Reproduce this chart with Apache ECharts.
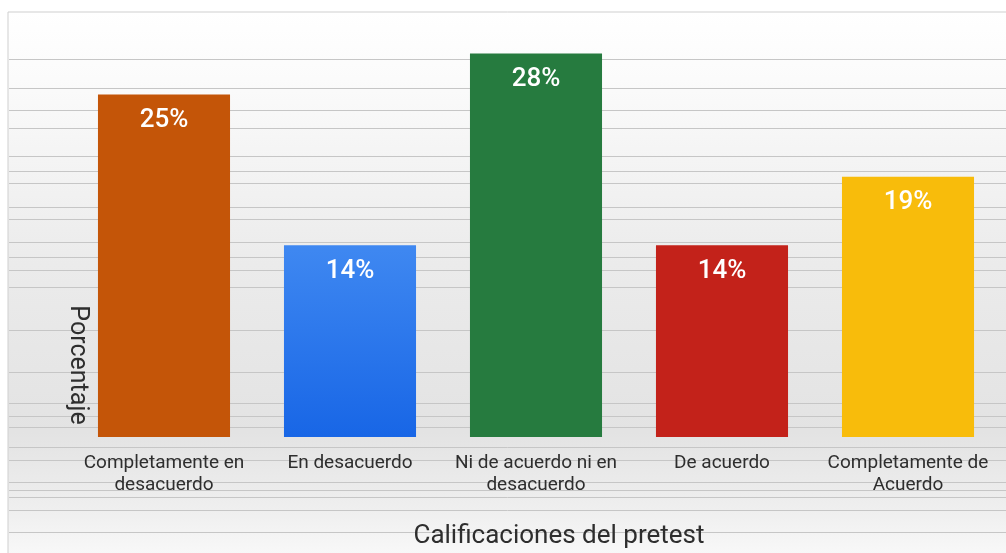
<!DOCTYPE html>
<html>
<head>
<meta charset="utf-8">
<script src="https://cdn.jsdelivr.net/npm/echarts@6/dist/echarts.min.js"></script>
<style>
  html, body { margin: 0; padding: 0; background: #ffffff; }
  #chart { width: 1006px; height: 553px; }
</style>
</head>
<body>
<div id="chart"></div>
<script>
// Survey answers (pretest), percentage of respondents per rating
const categories = [
  'Completamente en\ndesacuerdo',
  'En desacuerdo',
  'Ni de acuerdo ni en\ndesacuerdo',
  'De acuerdo',
  'Completamente de\nAcuerdo'
];
const percentages = [25, 14, 28, 14, 19];
const barColors = [
  '#c45508',
  { type: 'linear', x: 0, y: 0, x2: 0, y2: 1,
    colorStops: [{ offset: 0, color: '#3f88f1' }, { offset: 1, color: '#1866e6' }] },
  '#267b3f',
  '#c3221a',
  '#f8bc0b'
];
const xTitle = 'Calificaciones del pretest';
const yTitle = 'Porcentaje';

// decorative background rules (pixel offsets of the panel ruling)
const ruleOffsets = [59, 88, 110, 128, 156, 171, 183, 207, 219, 242, 257, 270, 287,
  330, 372, 403, 416, 427, 447, 460, 482, 490, 497, 510, 532];

const FONT = 'Roboto, "Noto Sans", sans-serif';
const chart = echarts.init(document.getElementById('chart'), null, { renderer: 'canvas' });

const graphics = [
  {
    type: 'rect', z: -20, silent: true,
    shape: { x: 8, y: 12, width: 1010, height: 560 },
    style: {
      fill: { type: 'linear', x: 0, y: 0, x2: 0, y2: 1, colorStops: [
        { offset: 0, color: '#ffffff' },
        { offset: 0.12, color: '#fbfbfb' },
        { offset: 0.45, color: '#ebebeb' },
        { offset: 0.75, color: '#e3e3e3' },
        { offset: 0.9, color: '#f0f0f0' },
        { offset: 1, color: '#fcfcfc' }
      ] },
      stroke: '#cfcfcf', lineWidth: 1
    }
  }
];
ruleOffsets.forEach(function (y) {
  graphics.push({
    type: 'line', z: -19, silent: true,
    shape: { x1: 9, y1: y + 0.5, x2: 1006, y2: y + 0.5 },
    style: { stroke: '#c6c6c6', lineWidth: 1 }
  });
});
// vertical axis title, reading top to bottom
graphics.push({
  type: 'text', silent: true,
  x: 77, y: 365, rotation: -Math.PI / 2,
  style: {
    text: yTitle, fill: '#2e2e2e',
    font: '25px ' + FONT,
    align: 'center', verticalAlign: 'middle'
  }
});
// horizontal axis title
graphics.push({
  type: 'text', silent: true,
  x: 559, y: 536,
  style: {
    text: xTitle, fill: '#2e2e2e',
    font: '26px ' + FONT,
    align: 'center', verticalAlign: 'middle'
  }
});

chart.setOption({
  animation: false,
  backgroundColor: '#ffffff',
  graphic: graphics,
  grid: { left: 71, right: 5, top: 26, bottom: 116, containLabel: false },
  xAxis: {
    type: 'category',
    data: categories,
    axisLine: { show: false },
    axisTick: { show: false },
    axisLabel: {
      color: '#2e2e2e', fontSize: 19, lineHeight: 22, margin: 15,
      fontFamily: FONT, interval: 0
    }
  },
  yAxis: {
    type: 'value', min: 0, max: 30, interval: 5,
    show: false,
    splitLine: { show: false }
  },
  series: [{
    type: 'bar',
    barWidth: '71%',
    data: percentages.map(function (v, i) {
      return { value: v, itemStyle: { color: barColors[i] } };
    }),
    label: {
      show: true, position: 'insideTop', distance: 13,
      color: '#ffffff', fontSize: 26, fontWeight: 500,
      fontFamily: FONT,
      formatter: function (p) { return p.value + '%'; }
    }
  }]
});
</script>
</body>
</html>
